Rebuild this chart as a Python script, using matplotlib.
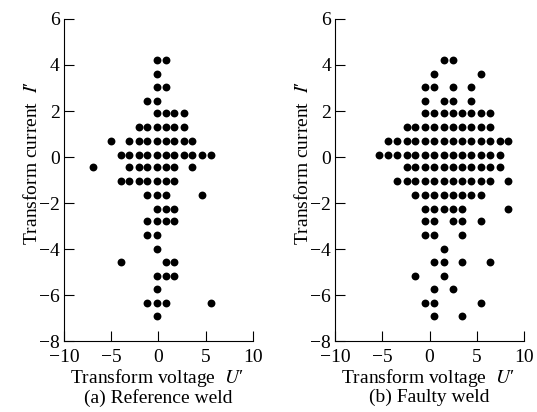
import numpy as np
import matplotlib
matplotlib.use("Agg")
import matplotlib.pyplot as plt

plt.rcParams['font.family'] = ['Liberation Serif', 'DejaVu Serif']
plt.rcParams['mathtext.fontset'] = 'stix'

# row heights (transform current I')
row_y = [4.2, 3.6, 3.05, 2.45, 1.9, 1.3, 0.7, 0.1, -0.45, -1.05,
         -1.65, -2.25, -2.8, -3.4, -4.0, -4.55, -5.15, -5.75, -6.35, -6.9]

# (a) reference weld: x positions per row
ref_x = [
    [-0.2, 0.8],
    [-0.2],
    [-0.2, 0.8],
    [-1.2, -0.2],
    [-0.2, 0.8, 1.7, 2.7],
    [-2.1, -1.2, -0.2, 0.8, 1.7, 2.7],
    [-5.0, -3.1, -2.1, -1.2, -0.2, 0.8, 1.7, 2.7, 3.6],
    [-4.0, -3.1, -2.1, -1.2, -0.2, 0.8, 1.7, 2.7, 3.6, 4.6, 5.6],
    [-6.9, -3.1, -2.1, -1.2, -0.2, 0.8, 1.7, 3.6],
    [-4.0, -3.1, -2.1, -1.2, -0.2, 0.8, 1.7],
    [-1.2, -0.2, 0.8, 4.6],
    [-0.2, 0.8, 1.7],
    [-1.2, -0.2, 0.8, 1.7],
    [-1.2, -0.2],
    [-0.2],
    [-4.0, 0.8, 1.7],
    [-0.2, 0.8, 1.7],
    [-0.2],
    [-1.2, -0.2, 0.8, 5.6],
    [-0.2],
]

# (b) faulty weld
fault_x = [
    [1.5, 2.5],
    [0.5, 5.4],
    [-0.5, 0.5, 2.5, 4.4],
    [-0.5, 1.5, 2.5, 4.4],
    [-0.5, 0.5, 1.5, 2.5, 3.4, 4.4, 5.4, 6.4],
    [-2.4, -1.5, -0.5, 0.5, 1.5, 2.5, 3.4, 4.4, 5.4, 6.4],
    [-4.4, -3.4, -2.4, -1.5, -0.5, 0.5, 1.5, 2.5, 3.4, 4.4, 5.4, 6.4, 7.4, 8.3],
    [-5.4, -4.4, -3.4, -2.4, -1.5, -0.5, 0.5, 1.5, 2.5, 3.4, 4.4, 5.4, 6.4, 7.4],
    [-2.4, -1.5, -0.5, 0.5, 1.5, 2.5, 3.4, 4.4, 5.4, 6.4, 7.4],
    [-3.4, -2.4, -1.5, -0.5, 0.5, 1.5, 2.5, 3.4, 4.4, 5.4, 6.4, 8.3],
    [-1.5, -0.5, 0.5, 1.5, 2.5, 3.4, 4.4, 5.4],
    [-0.5, 0.5, 1.5, 2.5, 3.4, 8.3],
    [-0.5, 0.5, 2.5, 3.4, 5.4],
    [-0.5, 0.5, 3.4],
    [1.5],
    [0.5, 1.5, 3.4, 6.4],
    [-1.5, 1.5],
    [0.5, 2.5],
    [-0.5, 0.5, 5.4],
    [0.5, 3.4],
]

xticks = [-10, -5, 0, 5, 10]
yticks = [-8, -6, -4, -2, 0, 2, 4, 6]
captions = ["(a) Reference weld", "(b) Faulty weld"]

fs = 14
fig = plt.figure(figsize=(5.37, 4.12), dpi=100)
ax_pos = [[0.119, 0.172, 0.352, 0.782], [0.624, 0.172, 0.352, 0.782]]

for pos, rows, cap in zip(ax_pos, [ref_x, fault_x], captions):
    ax = fig.add_axes(pos)
    xs, ys = [], []
    for y, xr in zip(row_y, rows):
        xs += xr
        ys += [y] * len(xr)
    ax.scatter(xs, ys, s=32, c='k', marker='o', linewidths=0)
    ax.set_xlim(-10, 10)
    ax.set_ylim(-8, 6)
    ax.set_xticks(xticks)
    ax.set_yticks(yticks)
    ax.spines['top'].set_visible(False)
    ax.spines['right'].set_visible(False)
    ax.tick_params(direction='in', length=7, labelsize=fs)
    ax.tick_params(axis='x', pad=6)
    ax.tick_params(axis='y', pad=3)
    for lbl in ax.get_yticklabels():
        lbl.set_va('center_baseline')
    ax.set_xlabel("Transform voltage  $U$\u2032", fontsize=fs)
    ax.xaxis.set_label_coords(0.49, -0.08)
    ax.set_ylabel("Transform current  $I$\u2032", fontsize=fs)
    ax.yaxis.set_label_coords(-0.122, 0.553)
    ax.text(0.5, -0.148, cap, transform=ax.transAxes, ha='center', va='top', fontsize=fs)

fig.savefig("out.png", dpi=100)
